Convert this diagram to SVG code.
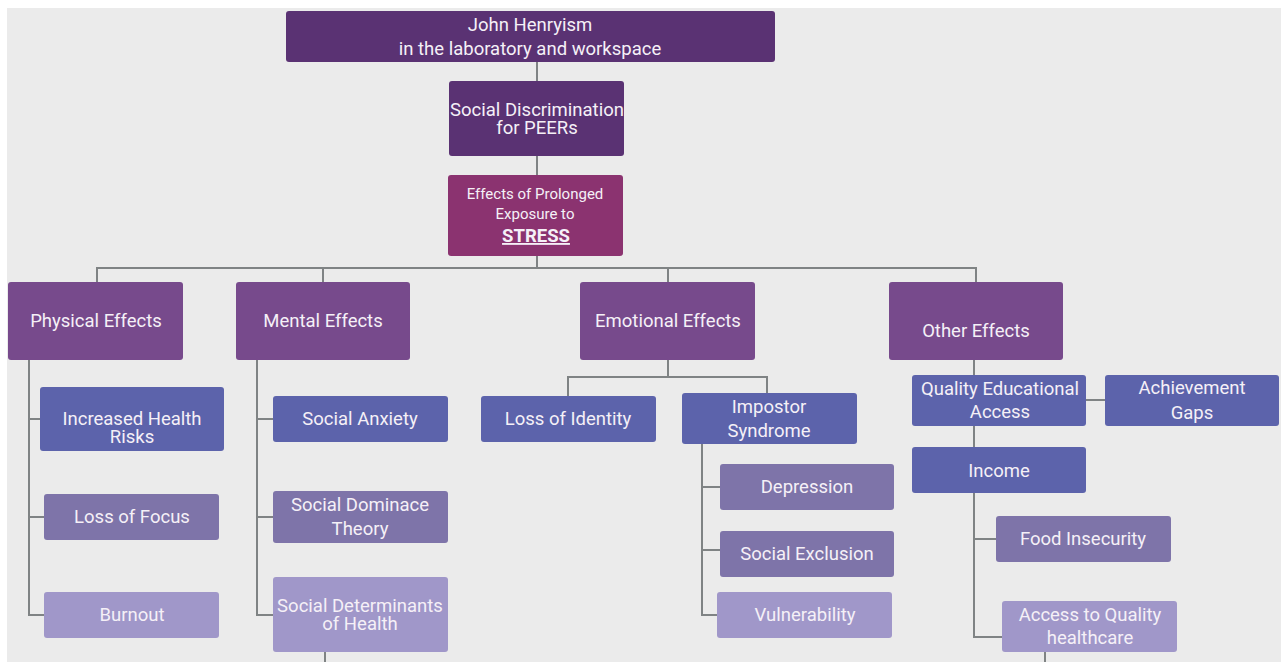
<svg xmlns="http://www.w3.org/2000/svg" width="1281" height="662" viewBox="0 0 1281 662">
<style>
.bg{fill:#ebebeb}
.n rect{rx:3px;ry:3px}
.dark{fill:#5a3273}
.stress{fill:#8b3370}
.l2{fill:#774a8c}
.blue{fill:#5c63ab}
.mid{fill:#7e74a9}
.light{fill:#a097c9}
text{font-family:Roboto,"Liberation Sans",sans-serif;font-size:18.5px;fill:#f5f0f7;text-anchor:middle}
.s14{font-size:15px}
.bold{font-weight:bold;text-decoration:underline}
#connectors path{fill:none;stroke:#7f8384;stroke-width:2}
</style>
<rect class="bg" x="7" y="8" width="1274" height="654"/>
<g id="connectors">
<path d="M537 62V81M537 156V175M537 256V268"/>
<path d="M97 282V268H976V282M323 268V282M668 268V282"/>
<path d="M29 360V615H44M29 419H40M29 517H44"/>
<path d="M257 360V615H273M257 419H273M257 517H273M325 652V662"/>
<path d="M668 360V377M568 396V377H767V393"/>
<path d="M702 444V615H717M702 487H720M702 550H720"/>
<path d="M974 360V375M974 426V447M1086 400H1105M974 493V637H1002M974 539H996M1045 652V662"/>
</g>
<g id="n-top" class="n"><rect class="dark" x="286" y="11" width="489" height="51"/><text x="530" y="31">John Henryism</text><text x="530" y="55">in the laboratory and workspace</text></g>
<g id="n-social" class="n"><rect class="dark" x="449" y="81" width="175" height="75"/><text x="537" y="116">Social Discrimination</text><text x="537" y="134">for PEERs</text></g>
<g id="n-stress" class="n"><rect class="stress" x="448" y="175" width="175" height="81"/><text class="s14" x="535" y="199">Effects of Prolonged</text><text class="s14" x="535" y="219">Exposure to</text><text class="bold" x="536" y="242">STRESS</text></g>
<g id="n-physical" class="n"><rect class="l2" x="8" y="282" width="175" height="78"/><text x="96" y="327">Physical Effects</text></g>
<g id="n-mental" class="n"><rect class="l2" x="236" y="282" width="174" height="78"/><text x="323" y="327">Mental Effects</text></g>
<g id="n-emotional" class="n"><rect class="l2" x="580" y="282" width="175" height="78"/><text x="668" y="327">Emotional Effects</text></g>
<g id="n-other" class="n"><rect class="l2" x="889" y="282" width="174" height="78"/><text x="976" y="337">Other Effects</text></g>
<g id="n-health" class="n"><rect class="blue" x="40" y="387" width="184" height="64"/><text x="132" y="425">Increased Health</text><text x="132" y="443">Risks</text></g>
<g id="n-focus" class="n"><rect class="mid" x="44" y="494" width="175" height="46"/><text x="132" y="523">Loss of Focus</text></g>
<g id="n-burnout" class="n"><rect class="light" x="44" y="592" width="175" height="46"/><text x="132" y="621">Burnout</text></g>
<g id="n-anxiety" class="n"><rect class="blue" x="273" y="396" width="175" height="46"/><text x="360" y="425">Social Anxiety</text></g>
<g id="n-dominance" class="n"><rect class="mid" x="273" y="491" width="175" height="52"/><text x="360" y="511">Social Dominace</text><text x="360" y="535">Theory</text></g>
<g id="n-determinants" class="n"><rect class="light" x="273" y="577" width="175" height="75"/><text x="360" y="612">Social Determinants</text><text x="360" y="630">of Health</text></g>
<g id="n-identity" class="n"><rect class="blue" x="481" y="396" width="175" height="46"/><text x="568" y="425">Loss of Identity</text></g>
<g id="n-impostor" class="n"><rect class="blue" x="682" y="393" width="175" height="51"/><text x="769" y="413">Impostor</text><text x="769" y="437">Syndrome</text></g>
<g id="n-depression" class="n"><rect class="mid" x="720" y="464" width="174" height="46"/><text x="807" y="493">Depression</text></g>
<g id="n-exclusion" class="n"><rect class="mid" x="720" y="531" width="174" height="46"/><text x="807" y="560">Social Exclusion</text></g>
<g id="n-vulnerability" class="n"><rect class="light" x="717" y="592" width="175" height="46"/><text x="805" y="621">Vulnerability</text></g>
<g id="n-education" class="n"><rect class="blue" x="912" y="375" width="174" height="51"/><text x="1000" y="395">Quality Educational</text><text x="1000" y="418">Access</text></g>
<g id="n-gaps" class="n"><rect class="blue" x="1105" y="375" width="174" height="51"/><text x="1192" y="394">Achievement</text><text x="1192" y="419">Gaps</text></g>
<g id="n-income" class="n"><rect class="blue" x="912" y="447" width="174" height="46"/><text x="999" y="477">Income</text></g>
<g id="n-food" class="n"><rect class="mid" x="996" y="516" width="175" height="46"/><text x="1083" y="545">Food Insecurity</text></g>
<g id="n-healthcare" class="n"><rect class="light" x="1002" y="601" width="175" height="51"/><text x="1090" y="621">Access to Quality</text><text x="1090" y="644">healthcare</text></g>
</svg>
